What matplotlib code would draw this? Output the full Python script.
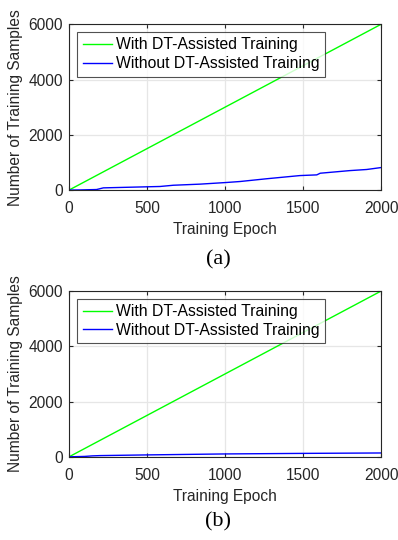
import numpy as np
import matplotlib
matplotlib.use("Agg")
import matplotlib.pyplot as plt

plt.rcParams['font.family'] = ['Liberation Sans', 'DejaVu Sans']

# data
epoch_with = [0, 2000]
samples_with = [0, 6000]

epoch_a = [0, 70, 177, 220, 400, 583, 669, 840, 1010, 1096, 1267, 1480, 1588, 1610, 1800, 1908, 2000]
samples_a = [0, 5, 20, 80, 105, 130, 175, 215, 275, 310, 410, 525, 550, 610, 705, 745, 815]

epoch_b = [0, 100, 150, 200, 500, 1000, 1500, 2000]
samples_b = [0, 15, 35, 45, 70, 105, 125, 140]

xticks = [0, 500, 1000, 1500, 2000]
yticks = [0, 2000, 4000, 6000]
labels = ['With DT-Assisted Training', 'Without DT-Assisted Training']
captions = ['(a)', '(b)']

fig = plt.figure(figsize=(3.98, 5.4), dpi=100)

def draw_panel(rect, ex, sy, caption, cap_y):
    ax = fig.add_axes(rect)
    ax.plot(epoch_with, samples_with, color='#00ff00', lw=1.0, label=labels[0])
    ax.plot(ex, sy, color='#0000ff', lw=1.0, label=labels[1])
    ax.set_xlim(0, 2000)
    ax.set_ylim(0, 6000)
    ax.set_xticks(xticks)
    ax.set_yticks(yticks)
    ax.grid(True, color='#e6e6e6', lw=0.9)
    ax.set_axisbelow(True)
    for s in ax.spines.values():
        s.set_color('#262626')
        s.set_linewidth(0.8)
    ax.tick_params(direction='in', length=3, top=True, right=True,
                   labelsize=11.2, colors='#262626')
    ax.tick_params(axis='x', pad=8)
    ax.tick_params(axis='y', pad=4.5)
    ax.set_xlabel('Training Epoch', fontsize=11.2, color='#262626', labelpad=4)
    ax.set_ylabel('Number of Training Samples', fontsize=11.2, color='#262626', labelpad=4)
    leg = ax.legend(loc='upper left', bbox_to_anchor=(0.026, 0.955), borderaxespad=0,
                    fontsize=11.3, frameon=True, fancybox=False, handlelength=1.9,
                    handletextpad=0.2, labelspacing=0.25, borderpad=0.35)
    leg.get_frame().set_edgecolor('#262626')
    leg.get_frame().set_linewidth(0.8)
    fig.text(0.548, cap_y, caption, ha='center', va='center', fontsize=16,
             family=['Liberation Serif', 'DejaVu Serif'])
    return ax

draw_panel([0.1734, 0.648, 0.784, 0.307], epoch_a, samples_a, captions[0], 0.519)
draw_panel([0.1734, 0.154, 0.784, 0.307], epoch_b, samples_b, captions[1], 0.033)

fig.savefig('out.png', dpi=100)
